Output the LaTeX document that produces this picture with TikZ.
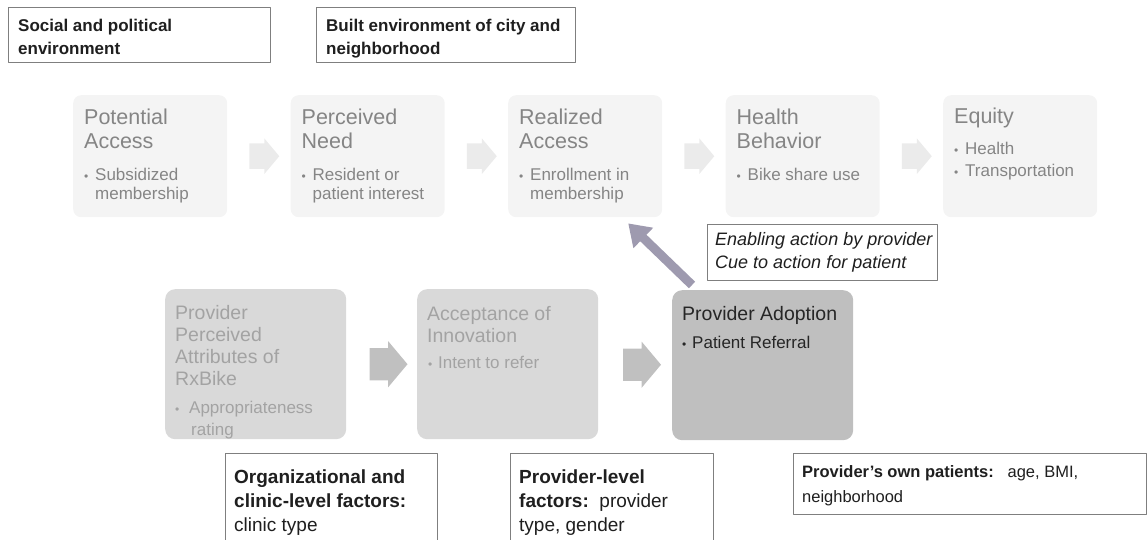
\documentclass[tikz,border=0pt]{standalone}
\usepackage{fontspec}
\setmainfont{Liberation Sans}
\usetikzlibrary{shapes.arrows,arrows.meta,calc}

\definecolor{stagefill}{HTML}{F4F4F4}
\definecolor{stagetext}{HTML}{858585}
\definecolor{stagearrow}{HTML}{EBEBEB}
\definecolor{adoptfill}{HTML}{D9D9D9}
\definecolor{adopttext}{HTML}{A3A3A3}
\definecolor{adoptarrow}{HTML}{C0C0C0}
\definecolor{referfill}{HTML}{BFBFBF}
\definecolor{refertext}{HTML}{262626}
\definecolor{framegray}{HTML}{7F7F7F}
\definecolor{cuearrow}{HTML}{9E9AAF}

\newcommand{\bul}{{\fontsize{12}{12}\selectfont•}}
% lines stacked from the first baseline down
\newcommand{\lines}[1]{\begin{tabular}[t]{@{}l@{}}#1\end{tabular}}

\begin{document}
\begin{tikzpicture}[
        x = 1pt, y = -1pt,
        line join=round,
        stagebox/.style = {rounded corners=8pt, fill=stagefill, minimum width=154pt, minimum height=122pt, inner sep=0pt, anchor=north west},
        stagetitle/.style = {anchor=base west, inner sep=0pt, text=stagetext, font=\fontsize{21.5}{23.5}\selectfont},
        stagebullet/.style = {anchor=base west, inner sep=0pt, text=stagetext, font=\fontsize{17}{19}\selectfont},
        stagearrow/.style = {single arrow, fill=stagearrow, minimum height=30pt, inner xsep=0pt, inner ysep=12.5pt, single arrow head extend=5pt, single arrow tip angle=100},
        adoptbox/.style = {rounded corners=10pt, fill=adoptfill, minimum width=181pt, minimum height=150pt, inner sep=0pt, anchor=north west},
        adopttitle/.style = {anchor=base west, inner sep=0pt, text=adopttext, font=\fontsize{19.5}{22}\selectfont},
        adoptbullet/.style = {anchor=base west, inner sep=0pt, text=adopttext, font=\fontsize{17}{22}\selectfont},
        adoptarrow/.style = {single arrow, fill=adoptarrow, minimum height=38pt, inner xsep=0pt, inner ysep=16pt, single arrow head extend=7pt, single arrow tip angle=100},
        framebox/.style = {draw=framegray, line width=0.9pt, fill=white, inner sep=0pt, anchor=north west},
        frametext/.style = {anchor=base west, inner sep=0pt, text=black!88}
    ]

    \useasboundingbox (0,0) rectangle (1148,540);

    % context boxes at the top
    \node[framebox, minimum width=262pt, minimum height=55pt] (social) at (8,7) {};
    \node[framebox, minimum width=259pt, minimum height=55pt] (built) at (316,7) {};
    \node[frametext, font=\fontsize{17}{23}\selectfont\bfseries] (socialtext) at ([shift={(10,25)}]social.north west)
        {\lines{Social and political\\environment}};
    \node[frametext, font=\fontsize{17}{23}\selectfont\bfseries] (builttext) at ([shift={(10,25)}]built.north west)
        {\lines{Built environment of city and\\neighborhood}};

    % access stages
    \node[stagebox] (potential) at (73,95) {};
    \node[stagebox] (need) at (290.5,95) {};
    \node[stagebox] (realized) at (508,95) {};
    \node[stagebox] (behavior) at (725.5,95) {};
    \node[stagebox] (equity) at (943,95) {};

    \node[stagetitle] (potentialtitle) at ([shift={(11,30)}]potential.north west) {\lines{Potential\\Access}};
    \node[stagebullet] (potentialitem) at ([shift={(11,86)}]potential.north west)
        {\lines{\makebox[11pt][l]{\bul}Subsidized\\\hspace*{11pt}membership}};
    \node[stagetitle] (needtitle) at ([shift={(11,30)}]need.north west) {\lines{Perceived\\Need}};
    \node[stagebullet] (needitem) at ([shift={(11,86)}]need.north west)
        {\lines{\makebox[11pt][l]{\bul}Resident or\\\hspace*{11pt}patient interest}};
    \node[stagetitle] (realizedtitle) at ([shift={(11,30)}]realized.north west) {\lines{Realized\\Access}};
    \node[stagebullet] (realizeditem) at ([shift={(11,86)}]realized.north west)
        {\lines{\makebox[11pt][l]{\bul}Enrollment in\\\hspace*{11pt}membership}};
    \node[stagetitle] (behaviortitle) at ([shift={(11,30)}]behavior.north west) {\lines{Health\\Behavior}};
    \node[stagebullet] (behavioritem) at ([shift={(11,86)}]behavior.north west)
        {\makebox[11pt][l]{\bul}Bike share use};
    \node[stagetitle] (equitytitle) at ([shift={(11,29)}]equity.north west) {Equity};
    \node[stagebullet] (equityitem) at ([shift={(11,60)}]equity.north west)
        {\lines{\makebox[11pt][l]{\bul}Health\\[3pt]\makebox[11pt][l]{\bul}Transportation}};

    \node[stagearrow] (arrowa) at ($(potential.east)!0.5!(need.west)$) {};
    \node[stagearrow] (arrowb) at ($(need.east)!0.5!(realized.west)$) {};
    \node[stagearrow] (arrowc) at ($(realized.east)!0.5!(behavior.west)$) {};
    \node[stagearrow] (arrowd) at ($(behavior.east)!0.5!(equity.west)$) {};

    % provider adoption stages
    \node[adoptbox] (attributes) at (165,289) {};
    \node[adoptbox] (acceptance) at (417,289) {};
    \node[adoptbox, fill=referfill] (adoption) at (672,290) {};

    \node[adopttitle] (attributestitle) at ([shift={(10,30)}]attributes.north west)
        {\lines{Provider\\Perceived\\Attributes of\\RxBike}};
    \node[adoptbullet] (attributesitem) at ([shift={(10,124)}]attributes.north west)
        {\lines{\makebox[14pt][l]{\bul}Appropriateness\\\hspace*{16pt}rating}};
    \node[adopttitle] (acceptancetitle) at ([shift={(10,31)}]acceptance.north west)
        {\lines{Acceptance of\\Innovation}};
    \node[adoptbullet] (acceptanceitem) at ([shift={(11,79)}]acceptance.north west)
        {\makebox[10pt][l]{\bul}Intent to refer};
    \node[adopttitle, text=refertext] (adoptiontitle) at ([shift={(10,30)}]adoption.north west)
        {Provider Adoption};
    \node[adoptbullet, text=refertext] (adoptionitem) at ([shift={(10,58)}]adoption.north west)
        {\makebox[10pt][l]{\bul}Patient Referral};

    \node[adoptarrow] (arrowe) at ($(attributes.east)!0.5!(acceptance.west)$) {};
    \node[adoptarrow] (arrowf) at ($(acceptance.east)!0.5!(adoption.west)$) {};

    % referral feeds back into realized access
    \node[framebox, minimum width=230pt, minimum height=56pt] (cue) at (707,224) {};
    \node[frametext, font=\fontsize{18}{23}\selectfont\itshape] (cuetext) at ([shift={(8,21)}]cue.north west)
        {\lines{Enabling action by provider\\Cue to action for patient}};
    \draw[cuearrow, line width=9pt, -{Triangle[width=27pt,length=21pt]}]
        ([shift={(20,-5)}]adoption.north west) -- ([shift={(43,6)}]realized.south);

    % factor boxes at the bottom
    \node[framebox, minimum width=212pt, minimum height=100pt] (org) at (225,453) {};
    \node[framebox, minimum width=203pt, minimum height=100pt] (level) at (510,453) {};
    \node[framebox, minimum width=353pt, minimum height=61pt] (own) at (793,453) {};
    \node[frametext, font=\fontsize{19}{24}\selectfont] (orgtext) at ([shift={(9,30)}]org.north west)
        {\lines{\textbf{Organizational and}\\\textbf{clinic-level factors:}\\clinic type}};
    \node[frametext, font=\fontsize{19}{24}\selectfont] (leveltext) at ([shift={(9,30)}]level.north west)
        {\lines{\textbf{Provider-level}\\\textbf{factors:}\ \ provider\\type, gender}};
    \node[frametext, font=\fontsize{16.5}{25}\selectfont] (owntext) at ([shift={(9,24)}]own.north west)
        {\lines{\textbf{Provider’s own patients:}\ \ \ age, BMI,\\neighborhood}};

\end{tikzpicture}
\end{document}
